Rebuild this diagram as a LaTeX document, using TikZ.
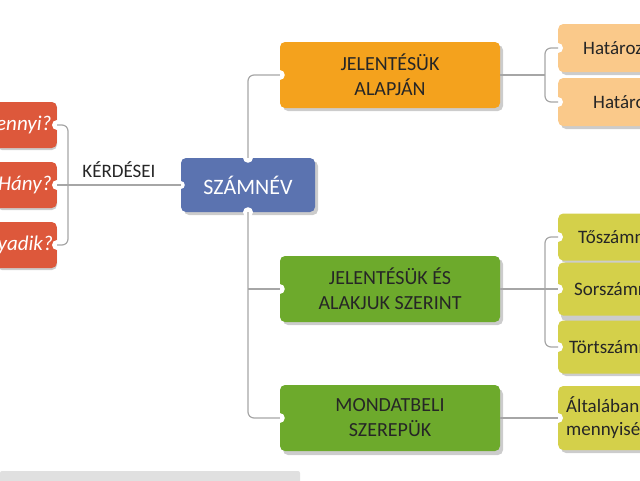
\documentclass[tikz,border=0pt]{standalone}
\usepackage{fontspec}
\setmainfont{Carlito}
\begin{document}
\begin{tikzpicture}[x=1pt,y=-1pt,
  box/.style={rounded corners=5pt,inner sep=0pt,align=center},
  red/.style={box,fill=redc,text=white,font=\fontsize{21}{24}\selectfont\itshape,minimum width=120pt,minimum height=46pt},
  big/.style={box,minimum width=220pt,minimum height=66pt,text=black!85,font=\fontsize{20}{25}\selectfont},
  leaf/.style={box,minimum width=200pt,minimum height=47pt,text=black!85,font=\fontsize{19}{23}\selectfont},
  notch/.style={fill=white,draw=none},
  conn/.style={draw=gray!70,line width=1.2pt,rounded corners=6pt}]
\useasboundingbox (0,0) rectangle (640,480);
\clip (0,0) rectangle (640,480);
\definecolor{org}{HTML}{F4A21D}
\definecolor{grn}{HTML}{6DAA2C}
\definecolor{lorg}{HTML}{FAC98A}
\definecolor{ygrn}{HTML}{D4D04A}
\definecolor{blu}{HTML}{5B73B0}
\definecolor{redc}{HTML}{DD583B}
% shadows
\foreach \x/\y/\w/\h in {-3/102/60/48,-3/164/60/46,-3/224/60/46,283/45/220/66,283/259/220/66,283/389/220/66,561/27/120/48,561/81/120/48,561/216/120/47,561/268/120/53,561/323/120/53,561/389/120/64,184/161/134/54}
  \fill[black!20,rounded corners=5pt] (\x,\y) rectangle ++(\w,\h);
% left red
\node[red,anchor=east] (q1) at (57,125) {\hspace{40pt}Mennyi?\hspace{4pt}};
\node[red,anchor=east] (q2) at (57,185) {\hspace{60pt}Hány?\hspace{4pt}};
\node[red,anchor=east] (q3) at (57,245) {\hspace{40pt}Hányadik?\hspace{4pt}};
% center
\node[box,fill=blu,text=white,minimum width=134pt,minimum height=54pt,font=\fontsize{22}{26}\selectfont] (sz) at (248,185) {SZÁMNÉV};
% big
\node[big,fill=org] (b1) at (390,75) {JELENTÉSÜK\\ALAPJÁN};
\node[big,fill=grn] (b2) at (390,289) {JELENTÉSÜK ÉS\\ALAKJUK SZERINT};
\node[big,fill=grn] (b3) at (390,418) {MONDATBELI\\SZEREPÜK};
% leaves
\node[leaf,fill=lorg,anchor=west,text width=190pt,align=left,minimum height=48pt] (l1) at (558,48) {\hspace{20pt}Határozott};
\node[leaf,fill=lorg,anchor=west,text width=190pt,align=left,minimum height=48pt] (l2) at (558,102) {\hspace{30pt}Határozatlan};
\node[leaf,fill=ygrn,anchor=west,text width=190pt,align=left] (l3) at (558,237) {\hspace{15pt}Tőszámnév};
\node[leaf,fill=ygrn,anchor=west,text width=190pt,align=left,minimum height=53pt] (l4) at (558,289) {\hspace{11pt}Sorszámnév};
\node[leaf,fill=ygrn,anchor=west,text width=190pt,align=left,minimum height=53pt] (l5) at (558,347) {\hspace{6pt}Törtszámnév};
\node[leaf,fill=ygrn,anchor=west,text width=190pt,align=left,minimum height=64pt] (l6) at (558,418) {\hspace{3pt}Általában\\\hspace{3pt}mennyiség};
% notches
\foreach \n in {q1,q2,q3} \fill[notch] (\n.east) circle (5);
\foreach \n in {b1,b2,b3,l1,l2,l3,l4,l5,l6} \fill[notch] (\n.west) circle (5);
\fill[notch] (sz.north) circle (5);
\fill[notch] (sz.south) circle (5);
\fill[notch] (sz.west) circle (4);
% connectors
\draw[conn] (q1.east) -- (68,125) -- (68,245) -- (q3.east);
\draw[conn] (q2.east) -- node[above=3pt,text=black!85,font=\fontsize{19}{22}\selectfont] (kl) {KÉRDÉSEI} (sz.west);
\draw[conn] (sz.north) -- (248,75) -- (b1.west);
\draw[conn] (sz.south) -- (248,418) -- (b3.west);
\draw[conn] (248,289) -- (b2.west);
\draw[conn] (l1.west) -- (545,48) -- (545,102) -- (l2.west);
\draw[conn] (b1.east) -- (545,75);
\draw[conn] (l3.west) -- (545,237) -- (545,347) -- (l5.west);
\draw[conn] (b2.east) -- (l4.west);
\draw[conn] (b3.east) -- (l6.west);
% bottom bar
\fill[black!12,rounded corners=2pt] (0,471) rectangle (300,490);
\end{tikzpicture}
\end{document}
